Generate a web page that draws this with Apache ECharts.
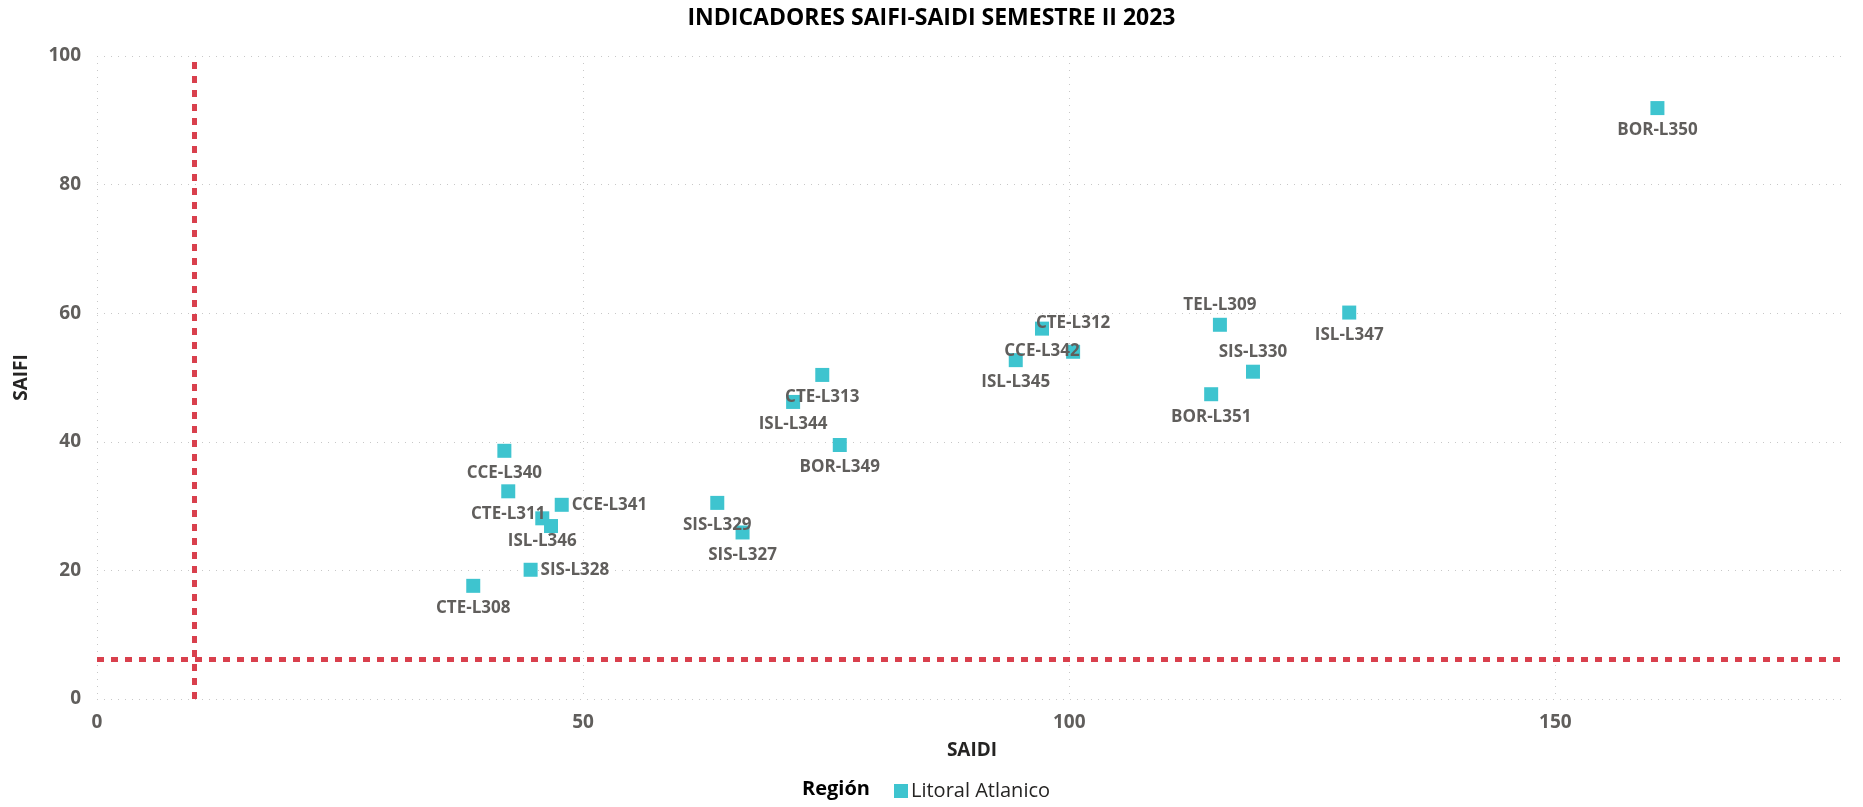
<!DOCTYPE html>
<html>
<head>
<meta charset="utf-8">
<title>Indicadores SAIFI-SAIDI</title>
<script src="https://cdn.jsdelivr.net/npm/echarts@6/dist/echarts.min.js"></script>
<style>
  html, body { margin: 0; padding: 0; background: #fff; }
  #main { width: 1863px; height: 807px; }
</style>
</head>
<body>
<div id="main"></div>
<script>
// datos
var lineas = ['BOR-L350', 'ISL-L347', 'TEL-L309', 'SIS-L330', 'BOR-L351', 'CTE-L312', 'CCE-L342',
  'ISL-L345', 'CTE-L313', 'ISL-L344', 'BOR-L349', 'SIS-L329', 'SIS-L327', 'CCE-L340', 'CTE-L311',
  'CCE-L341', 'ISL-L346', '', 'SIS-L328', 'CTE-L308'];
var saidi = [160.5, 128.8, 115.5, 118.9, 114.6, 100.4, 97.2, 94.5, 74.6, 71.6, 76.4, 63.8, 66.4,
  41.9, 42.3, 47.8, 45.8, 46.7, 44.6, 38.7];
var saifi = [91.9, 60.1, 58.2, 50.9, 47.4, 54.0, 57.6, 52.7, 50.4, 46.2, 39.5, 30.5, 25.9,
  38.6, 32.3, 30.2, 28.1, 26.9, 20.1, 17.6];
var xTicks = [0, 50, 100, 150];
var yTicks = [0, 20, 40, 60, 80, 100];
var limiteSaidi = 10;
var limiteSaifi = 6.2;
var region = 'Litoral Atlanico';

// donde va cada etiqueta (por defecto abajo)
var posEtiqueta = {
  'TEL-L309': 'top',
  'SIS-L330': 'top',
  'CTE-L312': 'top',
  'CCE-L341': 'right',
  'SIS-L328': 'right'
};

var chart = echarts.init(document.getElementById('main'));
var fuente = '"Open Sans", "DejaVu Sans", sans-serif';
var gris = '#605E5C';

var puntos = lineas.map(function (n, i) {
  var pos = posEtiqueta[n] || 'bottom';
  var dist = pos === 'right' ? 3 : (pos === 'top' ? 4 : 7);
  if (n === 'CTE-L312') dist = 13; // en el original queda mas arriba
  return {
    name: n,
    value: [saidi[i], saifi[i]],
    label: { show: n !== '', position: pos, distance: dist }
  };
});

var option = {
  animation: false,
  title: {
    text: 'INDICADORES SAIFI-SAIDI SEMESTRE II 2023',
    left: 'center',
    top: 2,
    textStyle: { fontFamily: fuente, fontWeight: 'bold', fontSize: 23, color: '#000' }
  },
  graphic: [{
    type: 'text',
    left: 802,
    top: 779,
    style: { text: 'Región', font: 'bold 20px ' + fuente, fill: '#000' }
  }],
  legend: {
    left: 889,
    top: 776,
    itemWidth: 14,
    itemHeight: 14,
    itemGap: 6,
    data: [{ name: region, icon: 'rect' }],
    textStyle: { fontFamily: fuente, fontSize: 20, color: '#252423', padding: [0, 0, 0, -2] }
  },
  grid: { left: 97, right: 16, top: 56, bottom: 108, containLabel: false },
  xAxis: {
    type: 'value',
    min: 0,
    max: 180,
    interval: 50,
    name: 'SAIDI',
    nameLocation: 'middle',
    nameGap: 42,
    nameTextStyle: { fontFamily: fuente, fontWeight: 'bold', fontSize: 19, color: '#252423' },
    axisLine: { show: false },
    axisTick: { show: false },
    axisLabel: {
      showMaxLabel: false,
      margin: 14,
      fontFamily: fuente, fontWeight: 'bold', fontSize: 19, color: gris,
      formatter: function (v) { return xTicks.indexOf(v) >= 0 ? String(v) : ''; }
    },
    splitLine: { show: true, showMaxLine: false, lineStyle: { color: '#C8C8C8', type: [1, 6], width: 1 } }
  },
  yAxis: {
    type: 'value',
    min: 0,
    max: 100,
    interval: 20,
    name: 'SAIFI',
    nameLocation: 'middle',
    nameGap: 66,
    nameTextStyle: { fontFamily: fuente, fontWeight: 'bold', fontSize: 19, color: '#252423' },
    axisLine: { show: false },
    axisTick: { show: false },
    axisLabel: {
      margin: 16,
      fontFamily: fuente, fontWeight: 'bold', fontSize: 19, color: gris,
      formatter: function (v) { return yTicks.indexOf(v) >= 0 ? String(v) : ''; }
    },
    splitLine: { show: true, lineStyle: { color: '#C8C8C8', type: [1, 6], width: 1 } }
  },
  series: [{
    name: region,
    type: 'scatter',
    symbol: 'rect',
    symbolSize: 14,
    itemStyle: { color: '#3EC4CF', opacity: 1 },
    label: {
      fontFamily: fuente, fontWeight: 'bold', fontSize: 17, color: gris,
      formatter: function (p) { return p.name; }
    },
    labelLayout: { hideOverlap: false },
    data: puntos,
    markLine: {
      silent: true,
      symbol: 'none',
      label: { show: false },
      lineStyle: { color: '#D9404D', width: 5, type: [7, 7], opacity: 1 },
      data: [{ xAxis: limiteSaidi }, { yAxis: limiteSaifi }]
    },
    z: 3
  }]
};
chart.setOption(option);
</script>
</body>
</html>
